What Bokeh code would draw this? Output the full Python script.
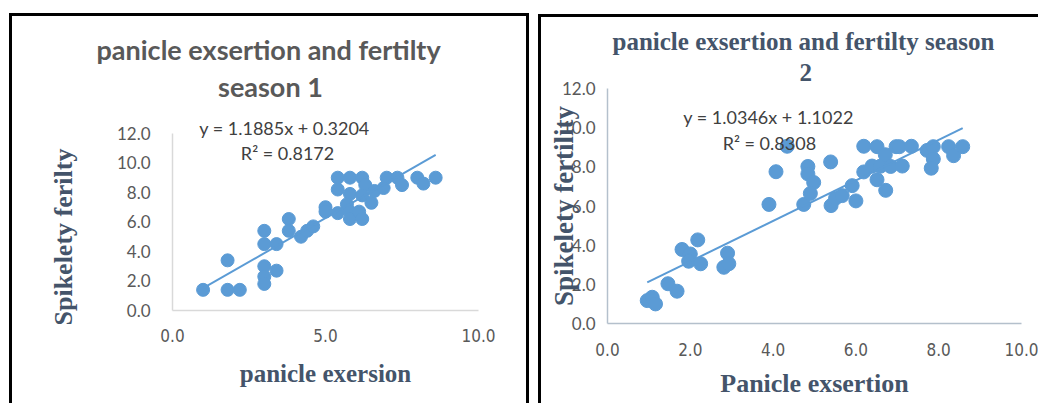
import numpy as np
from bokeh.plotting import figure
from bokeh.layouts import row, column
from bokeh.models import (Label, NumeralTickFormatter, FixedTicker, Range1d, Title,
                          Div, Spacer)
from bokeh.embed import file_html
from bokeh.resources import INLINE

# ---------------- data ----------------
# Season 1
s1_x = [1.0, 1.8, 1.8, 2.2, 3.0, 3.0, 3.0, 3.0, 3.0, 3.4, 3.4, 3.8, 3.8, 4.2, 4.4,
        4.6, 5.0, 5.0, 5.4, 5.4, 5.4, 5.8, 5.8, 5.7, 5.8, 5.8, 6.2, 6.3, 6.2, 6.1,
        6.2, 6.5, 6.6, 6.9, 7.0, 7.35, 7.5, 8.0, 8.2, 8.6]
s1_y = [1.4, 3.4, 1.4, 1.4, 5.4, 4.5, 3.0, 2.3, 1.8, 2.7, 4.5, 6.2, 5.4, 5.0, 5.4,
        5.7, 7.0, 6.7, 6.6, 9.0, 8.2, 9.0, 7.9, 7.2, 6.7, 6.2, 9.0, 8.5, 7.8, 6.7,
        6.2, 7.3, 8.1, 8.3, 9.0, 9.0, 8.5, 9.0, 8.6, 9.0]
s1_slope, s1_intercept = 1.1885, 0.3204
s1_eq = "y = 1.1885x + 0.3204"
s1_r2 = "R² = 0.8172"
s1_title = ["panicle exsertion and fertilty", "season 1"]
s1_xlabel = "panicle exersion"
s1_ylabel = "Spikelety ferilty"

# Season 2
s2_x = [0.96, 1.08, 1.16, 1.46, 1.68, 1.8, 2.0, 1.96, 2.18, 2.25, 2.81, 2.9, 2.93,
        3.9, 4.07, 4.34, 4.74, 4.84, 4.84, 4.98, 4.9, 5.39, 5.4, 5.51, 5.67, 5.91,
        6.0, 6.19, 6.19, 6.39, 6.51, 6.51, 6.59, 6.71, 6.72, 6.84, 6.97, 7.05, 7.12,
        7.34, 7.72, 7.87, 7.87, 7.82, 8.24, 8.36, 8.58]
s2_y = [1.17, 1.34, 1.0, 2.03, 1.65, 3.78, 3.55, 3.18, 4.27, 3.05, 2.87, 3.59, 3.05,
        6.08, 7.75, 9.05, 6.08, 8.02, 7.64, 7.2, 6.64, 8.25, 6.02, 6.4, 6.53, 7.04,
        6.26, 9.05, 7.74, 8.04, 9.03, 7.34, 8.03, 8.62, 6.8, 8.02, 9.03, 9.03, 8.04,
        9.05, 8.84, 9.03, 8.4, 7.93, 9.03, 8.57, 9.03]
s2_slope, s2_intercept = 1.0346, 1.1022
s2_eq = "y = 1.0346x + 1.1022"
s2_r2 = "R² = 0.8308"
s2_title = ["panicle exsertion and fertilty season", "2"]
s2_xlabel = "Panicle exsertion"
s2_ylabel = "Spikelety fertility"

y_ticks = [0, 2, 4, 6, 8, 10, 12]
s1_x_ticks = [0, 5, 10]
s2_x_ticks = [0, 2, 4, 6, 8, 10]

BLUE = "#5B9BD5"
SANS = "Lato"
NARROW = "'Liberation Sans Narrow', 'DejaVu Sans Condensed', sans-serif"
SERIF = "Liberation Serif"
TICK_COL = "#595959"
LAB_COL = "#44546A"
EQ_COL = "#404040"


def style_axes(p, xticks, ystandoff, xstandoff, axis_col):
    p.xgrid.visible = False
    p.ygrid.visible = False
    p.outline_line_color = None
    for ax in (p.xaxis[0], p.yaxis[0]):
        ax.major_tick_line_color = None
        ax.minor_tick_line_color = None
        ax.major_tick_in = 0
        ax.major_tick_out = 0
        ax.minor_tick_in = 0
        ax.minor_tick_out = 0
        ax.formatter = NumeralTickFormatter(format="0.0")
        ax.major_label_text_color = TICK_COL
        ax.major_label_text_font_size = "17px"
        ax.axis_line_color = axis_col
        ax.axis_line_width = 1.5
        ax.axis_label_text_font = SERIF
        ax.axis_label_text_font_style = "bold"
        ax.axis_label_text_color = LAB_COL
    p.xaxis[0].ticker = FixedTicker(ticks=xticks)
    p.yaxis[0].ticker = FixedTicker(ticks=y_ticks)
    p.xaxis[0].bounds = (0, 10)
    p.yaxis[0].bounds = (0, 12)
    p.xaxis[0].major_label_text_font = NARROW
    p.yaxis[0].major_label_text_font = SANS
    p.yaxis[0].major_label_standoff = ystandoff
    p.xaxis[0].major_label_standoff = xstandoff


def bar(w, h):
    return Div(text="", width=w, height=h, margin=0,
               styles={"background-color": "black"})


# ---------------- season 1 ----------------
p1 = figure(width=514, height=387, output_backend="svg", toolbar_location=None,
            x_range=Range1d(0, 10), y_range=Range1d(0, 16.4),
            min_border_left=160, min_border_right=48, min_border_top=52,
            min_border_bottom=93)
style_axes(p1, s1_x_ticks, 22, 18, "#D9D9D9")
p1.xaxis[0].axis_label = s1_xlabel
p1.xaxis[0].axis_label_text_font_size = "25px"
p1.xaxis[0].axis_label_standoff = 15

p1.scatter(s1_x, s1_y, size=13, color=BLUE, line_color=BLUE)
lx1 = np.array([min(s1_x), max(s1_x)])
p1.line(lx1, s1_slope * lx1 + s1_intercept, line_color=BLUE, line_width=2)

p1.add_layout(Title(text=s1_ylabel, align="left", offset=-15, vertical_align="top",
                    standoff=68, text_font=SERIF, text_font_style="bold",
                    text_font_size="26px", text_color=LAB_COL), "left")
p1.add_layout(Title(text=s1_title[0], align="left", offset=-76, standoff=6,
                    text_font=SANS, text_font_style="bold", text_font_size="27px",
                    text_color="#595959"), "above")
p1.add_layout(Label(x=3.2, y=15.15, text=s1_title[1], text_align="center",
                    text_baseline="middle", text_font=SANS, text_font_style="bold",
                    text_font_size="27px", text_color="#595959"))
p1.add_layout(Label(x=3.66, y=12.34, text=s1_eq, text_align="center", text_baseline="middle",
                    text_font=SANS, text_font_size="18px", text_color=EQ_COL))
p1.add_layout(Label(x=3.76, y=10.7, text=s1_r2, text_align="center", text_baseline="middle",
                    text_font=SANS, text_font_size="18px", text_color=EQ_COL))

# ---------------- season 2 ----------------
p2 = figure(width=497, height=386, output_backend="svg", toolbar_location=None,
            x_range=Range1d(0, 10), y_range=Range1d(0, 12),
            min_border_left=66, min_border_right=17, min_border_top=71,
            min_border_bottom=80)
style_axes(p2, s2_x_ticks, 12, 19, "#B4C0CC")
p2.xaxis[0].axis_label = s2_xlabel
p2.yaxis[0].axis_label = s2_ylabel
p2.xaxis[0].axis_label_text_font_size = "26px"
p2.yaxis[0].axis_label_text_font_size = "27px"
p2.xaxis[0].axis_label_standoff = 10
p2.yaxis[0].axis_label_standoff = -20

p2.scatter(s2_x, s2_y, size=14, color=BLUE, line_color=BLUE)
lx2 = np.array([min(s2_x), max(s2_x)])
p2.line(lx2, s2_slope * lx2 + s2_intercept, line_color=BLUE, line_width=2)

p2.add_layout(Title(text=s2_title[1], align="left", offset=192, standoff=15,
                    vertical_align="bottom", text_font=SERIF, text_font_style="bold",
                    text_font_size="25px", text_color=LAB_COL), "above")
p2.add_layout(Title(text=s2_title[0], align="left", offset=5, standoff=0,
                    vertical_align="bottom", text_font=SERIF, text_font_style="bold",
                    text_font_size="25px", text_color=LAB_COL), "above")
p2.add_layout(Label(x=3.89, y=10.56, text=s2_eq, text_align="center", text_baseline="middle",
                    text_font=SANS, text_font_size="18px", text_color=EQ_COL))
p2.add_layout(Label(x=3.91, y=9.23, text=s2_r2, text_align="center", text_baseline="middle",
                    text_font=SANS, text_font_size="18px", text_color=EQ_COL))

# ---------------- page layout with panel borders ----------------
left_block = column(Spacer(height=13), bar(520, 3), row(bar(3, 387), p1, bar(3, 387)))
right_block = column(Spacer(height=14), bar(500, 3), row(bar(3, 386), p2))
layout = row(Spacer(width=9), left_block, Spacer(width=9), right_block)
open("out.html", "w").write(file_html(layout, INLINE))
